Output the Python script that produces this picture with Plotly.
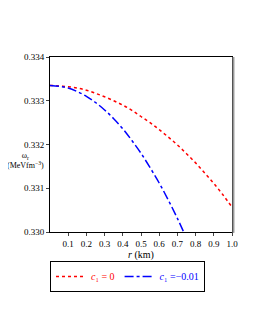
import plotly.graph_objects as go

r_vals = [0.0, 0.05, 0.1, 0.15, 0.2, 0.25, 0.3, 0.35, 0.4, 0.45, 0.5,
          0.55, 0.6, 0.65, 0.7, 0.75, 0.8, 0.85, 0.9, 0.95, 1.0]
omega_c0 = [0.33335, 0.33334, 0.33332, 0.33329, 0.33324, 0.33317, 0.33309,
            0.33300, 0.33290, 0.33278, 0.33264, 0.33250, 0.33234, 0.33217,
            0.33199, 0.33179, 0.33158, 0.33135, 0.33111, 0.33085, 0.33057]
r_blue = [0.0, 0.05, 0.1, 0.15, 0.2, 0.25, 0.3, 0.35, 0.4, 0.45, 0.5,
          0.55, 0.6, 0.65, 0.7, 0.75]
omega_c001 = [0.33335, 0.33333, 0.33329, 0.33321, 0.33310, 0.33296, 0.33279,
              0.33259, 0.33236, 0.33209, 0.33180, 0.33147, 0.33112, 0.33073,
              0.33031, 0.32986]
x_ticks = [0.1, 0.2, 0.3, 0.4, 0.5, 0.6, 0.7, 0.8, 0.9, 1.0]
x_tick_labels = ["0.1", "0.2", "0.3", "0.4", "0.5", "0.6", "0.7", "0.8", "0.9", "1.0"]
y_ticks = [0.330, 0.331, 0.332, 0.333, 0.334]
y_tick_labels = ["0.330", "0.331", "0.332", "0.333", "0.334"]

font = "Liberation Serif, Times New Roman, serif"

fig = go.Figure()
fig.add_trace(go.Scatter(
    x=r_vals, y=omega_c0, mode="lines", line=dict(color="red", dash="dot", width=1.5),
    line_shape="spline",
    name='<span style="color:red"><i>c</i>\u2081 = 0</span>'))
fig.add_trace(go.Scatter(
    x=r_blue, y=omega_c001, mode="lines", line=dict(color="blue", dash="dashdot", width=1.5),
    line_shape="spline",
    name='<span style="color:blue"><i>c</i>\u2081 =\u22120.01</span>'))

# page body adds an 8px offset, so margins are set relative to that
fig.update_layout(
    width=255, height=330,
    margin=dict(l=42, r=31, t=49, b=106),
    paper_bgcolor="white", plot_bgcolor="white",
    font=dict(family=font, size=9, color="black"),
    showlegend=True,
    legend=dict(orientation="h", x=0.5 - 8 / 255, xanchor="center", xref="container",
                y=1 - 253 / 330, yanchor="top", yref="container",
                bordercolor="black", borderwidth=1, font=dict(size=10),
                itemwidth=30, tracegroupgap=0),
    xaxis=dict(range=[0, 1.0], tickvals=x_ticks, ticktext=x_tick_labels,
               showgrid=False, zeroline=False, showline=True, linecolor="black",
               linewidth=1, mirror=True, ticks="outside", ticklen=3, automargin=False,
               title=dict(text="<i>r</i> (km)", font=dict(size=10), standoff=4)),
    yaxis=dict(range=[0.330, 0.334], tickvals=y_ticks, ticktext=y_tick_labels,
               showgrid=False, zeroline=False, showline=True, linecolor="black",
               linewidth=1, mirror=True, ticks="outside", ticklen=3, automargin=False),
    annotations=[dict(
        text="\u03c9<sub>r</sub><br>(MeVfm<sup>\u22123</sup>)",
        xref="paper", yref="paper", x=-0.02, y=0.41, xanchor="right", yanchor="middle",
        showarrow=False, font=dict(size=8), align="center")],
    shapes=[dict(type="line", xref="paper", yref="paper", x0=1.008, x1=1.008, y0=-0.005, y1=1.0,
                 line=dict(color="#999999", width=2))],
)

fig.write_html("out.html")
